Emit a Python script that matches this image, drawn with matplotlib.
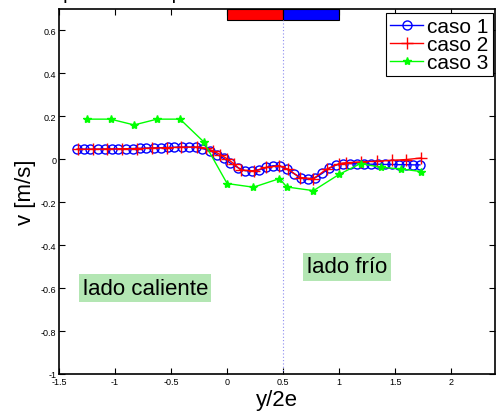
import matplotlib
matplotlib.use('Agg')
import matplotlib.pyplot as plt
from matplotlib.patches import Rectangle
from matplotlib.ticker import FormatStrFormatter

plt.rcParams['font.family'] = ['Liberation Sans', 'DejaVu Sans']

# caso 1 (azul, circulos)
x1 = [-1.34, -1.28, -1.22, -1.15, -1.09, -1.03, -0.97, -0.90, -0.84, -0.78,
      -0.72, -0.65, -0.59, -0.53, -0.47, -0.40, -0.34, -0.28, -0.22, -0.15,
      -0.09, -0.03, 0.03, 0.10, 0.16, 0.22, 0.28, 0.35, 0.41, 0.47,
      0.53, 0.60, 0.66, 0.72, 0.78, 0.85, 0.91, 0.97, 1.03, 1.10,
      1.16, 1.22, 1.28, 1.35, 1.41, 1.47, 1.53, 1.60, 1.66, 1.72]
v1 = [0.047, 0.047, 0.047, 0.047, 0.048, 0.048, 0.048, 0.049, 0.050, 0.051,
      0.052, 0.053, 0.054, 0.055, 0.056, 0.057, 0.057, 0.056, 0.050, 0.040,
      0.022, 0.004, -0.018, -0.040, -0.053, -0.054, -0.050, -0.038, -0.030, -0.030,
      -0.045, -0.068, -0.088, -0.093, -0.088, -0.065, -0.042, -0.027, -0.020, -0.020,
      -0.021, -0.022, -0.023, -0.023, -0.024, -0.024, -0.025, -0.025, -0.026, -0.026]

# caso 2 (rojo, cruces)
x2 = [-1.33, -1.20, -1.07, -0.94, -0.80, -0.67, -0.54, -0.41, -0.27, -0.19,
      -0.13, -0.06, 0.0, 0.06, 0.12, 0.24, 0.35, 0.46, 0.54, 0.65,
      0.77, 0.89, 1.0, 1.06, 1.19, 1.34, 1.47, 1.60, 1.73]
v2 = [0.047, 0.047, 0.048, 0.049, 0.050, 0.052, 0.054, 0.056, 0.057, 0.052,
      0.040, 0.022, 0.002, -0.020, -0.050, -0.054, -0.038, -0.030, -0.045, -0.085,
      -0.090, -0.045, -0.020, -0.016, -0.012, -0.009, -0.005, -0.001, 0.006]

# caso 3 (verde, asteriscos)
x3 = [-1.25, -1.04, -0.83, -0.625, -0.42, -0.21, 0.0, 0.235, 0.467, 0.533,
      0.77, 1.0, 1.19, 1.37, 1.55, 1.73]
v3 = [0.187, 0.187, 0.16, 0.187, 0.187, 0.082, -0.113, -0.13, -0.09, -0.129,
      -0.146, -0.07, -0.02, -0.037, -0.045, -0.057]

xticks = [-1.5, -1, -0.5, 0, 0.5, 1, 1.5, 2]
yticks = [-1, -0.8, -0.6, -0.4, -0.2, 0, 0.2, 0.4, 0.6]

fig = plt.figure(figsize=(4.96, 4.14), dpi=100)
ax = fig.add_axes([59 / 496, 39 / 414, 436 / 496, 365 / 414])

ax.plot([0.5, 0.5], [-1, 0.65], color='#8c8cf0', linestyle=(0, (1, 2)),
        linewidth=0.8)

ax.plot(x1, v1, color='b', marker='o', markersize=6.5, markerfacecolor='none',
        linewidth=1, label='caso 1')
ax.plot(x2, v2, color='r', marker='+', markersize=8, linewidth=1, label='caso 2')
ax.plot(x3, v3, color='#00ff00', marker='*', markersize=6, linewidth=1,
        label='caso 3')

# barra superior caliente / frio
ax.add_patch(Rectangle((0, 0.65), 0.5, 0.05, facecolor='r', edgecolor='k', lw=0.8))
ax.add_patch(Rectangle((0.5, 0.65), 0.5, 0.05, facecolor='b', edgecolor='k', lw=0.8))

ax.text(-1.29, -0.6, 'lado caliente', fontsize=16, va='center', ha='left',
        bbox=dict(facecolor='#b3e6b3', edgecolor='none', pad=2.5))
ax.text(0.71, -0.5, 'lado frío', fontsize=16, va='center', ha='left',
        bbox=dict(facecolor='#b3e6b3', edgecolor='none', pad=2.5))

ax.set_xlim(-1.5, 2.39)
ax.set_ylim(-1, 0.7)
ax.set_xticks(xticks)
ax.set_yticks(yticks)
ax.xaxis.set_major_formatter(FormatStrFormatter('%g'))
ax.yaxis.set_major_formatter(FormatStrFormatter('%g'))
ax.tick_params(direction='in', top=True, right=True, length=4, labelsize=6.5,
               width=0.8, pad=2)
for s in ax.spines.values():
    s.set_linewidth(1.2)

ax.set_xlabel('y/2e', fontsize=16, labelpad=2)
ax.set_ylabel('v [m/s]', fontsize=16, labelpad=3)

leg = ax.legend(loc='upper right', bbox_to_anchor=(493 / 496, 1 - 14 / 414),
                bbox_transform=fig.transFigure, borderaxespad=0,
                fontsize=15, fancybox=False, framealpha=1, edgecolor='k',
                handlelength=1.6, handletextpad=0.2, borderpad=0.2,
                labelspacing=-0.05)
leg.get_frame().set_linewidth(0.8)

fig.text(22 / 496, 1 + 1 / 414, 'Componente temporal de la velocidad v',
         fontsize=14, ha='left', va='baseline')

fig.savefig('out.png', dpi=100)
